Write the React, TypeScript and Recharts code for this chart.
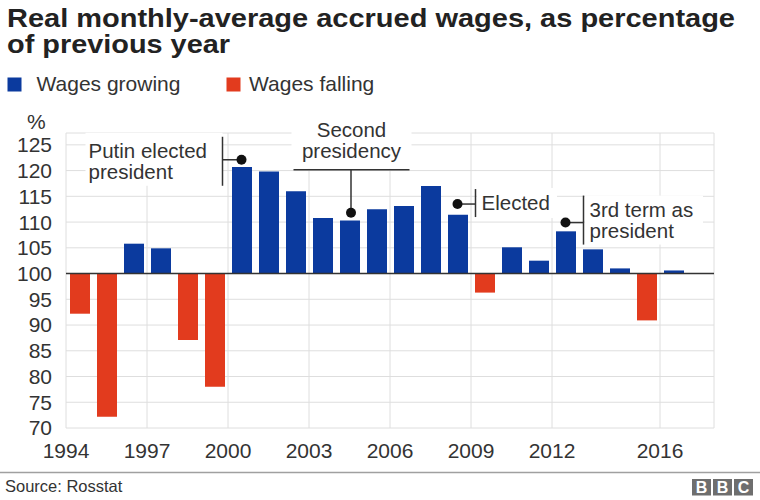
import React from 'react';
import {
  BarChart,
  Bar,
  XAxis,
  YAxis,
  CartesianGrid,
  Cell,
  ReferenceLine,
  ReferenceDot,
} from 'recharts';

// ---- data ----
const years = [
  1994, 1995, 1996, 1997, 1998, 1999, 2000, 2001, 2002, 2003, 2004, 2005,
  2006, 2007, 2008, 2009, 2010, 2011, 2012, 2013, 2014, 2015, 2016,
];
const wages = [
  92.2, 72.2, 105.8, 104.9, 87.1, 78.0, 120.7, 119.8, 116.0, 110.8, 110.3,
  112.5, 113.1, 117.0, 111.4, 96.3, 105.1, 102.5, 108.2, 104.7, 101.0, 90.9,
  100.6,
];
const baseline = 100;
const yTicks = [70, 75, 80, 85, 90, 95, 100, 105, 110, 115, 120, 125];
const xTicks = [1994, 1997, 2000, 2003, 2006, 2009, 2012, 2016];
const xDomain = [1994, 2018];
const yDomain = [70, 127.3];

const titleLines = [
  'Real monthly-average accrued wages, as percentage',
  'of previous year',
];
const legendItems = ['Wages growing', 'Wages falling'];
const sourceText = 'Source: Rosstat';

// annotation anchors (year, value)
const noteYears = [2000.5, 2004.5, 2008.5, 2012.5];
const noteValues = [122.1, 111.8, 113.5, 109.9];

const BLUE = '#0b3a9e';
const RED = '#e23b1e';
const INK = '#333';
const FONT = '"Liberation Sans", Arial, Helvetica, sans-serif';

const chartData = years.map((y, i) => ({
  x: y + 0.5,
  value: wages[i],
  range: wages[i] >= baseline ? [baseline, wages[i]] : [wages[i], baseline],
}));

const txt = { fontFamily: FONT, fontSize: 21, fill: INK } as const;
const note = { fontFamily: FONT, fontSize: 20.5, fill: INK } as const;
const lineStyle = { stroke: INK, strokeWidth: 1.5 } as const;

const PutinNote = (p: any) => {
  const { cx, cy } = p;
  return (
    <g>
      <rect x={cx - 156} y={cy - 27} width={137} height={53} fill="#fff" />
      <line x1={cx - 19} y1={cy} x2={cx} y2={cy} {...lineStyle} />
      <line x1={cx - 19} y1={cy - 23} x2={cx - 19} y2={cy + 26} {...lineStyle} />
      <circle cx={cx} cy={cy} r={5} fill="#111" />
      <text x={cx - 153} y={cy - 2} {...note}>Putin elected</text>
      <text x={cx - 153} y={cy + 19} {...note}>president</text>
    </g>
  );
};

const SecondNote = (p: any) => {
  const { cx, cy } = p;
  return (
    <g>
      <rect x={cx - 58} y={cy - 98} width={120} height={54} fill="#fff" />
      <line x1={cx + 1.5} y1={cy} x2={cx + 1.5} y2={cy - 43} {...lineStyle} />
      <line x1={cx - 56} y1={cy - 43} x2={cx + 60} y2={cy - 43} {...lineStyle} />
      <circle cx={cx + 1.5} cy={cy} r={5} fill="#111" />
      <text x={cx + 2} y={cy - 76} textAnchor="middle" {...note}>Second</text>
      <text x={cx + 2} y={cy - 55} textAnchor="middle" {...note}>presidency</text>
    </g>
  );
};

const ElectedNote = (p: any) => {
  const { cx, cy } = p;
  return (
    <g>
      <rect x={cx + 19.5} y={cy - 16} width={80} height={30} fill="#fff" />
      <line x1={cx} y1={cy} x2={cx + 18} y2={cy} {...lineStyle} />
      <line x1={cx + 18} y1={cy - 15} x2={cx + 18} y2={cy + 13} {...lineStyle} />
      <circle cx={cx} cy={cy} r={5} fill="#111" />
      <text x={cx + 24} y={cy + 6} {...note}>Elected</text>
    </g>
  );
};

const ThirdNote = (p: any) => {
  const { cx, cy } = p;
  return (
    <g>
      <rect x={cx + 19.5} y={cy - 27} width={118} height={49} fill="#fff" />
      <line x1={cx} y1={cy} x2={cx + 18} y2={cy} {...lineStyle} />
      <line x1={cx + 18} y1={cy - 27} x2={cx + 18} y2={cy + 22} {...lineStyle} />
      <circle cx={cx} cy={cy} r={5} fill="#111" />
      <text x={cx + 24} y={cy - 6} {...note}>3rd term as</text>
      <text x={cx + 24} y={cy + 15} {...note}>president</text>
    </g>
  );
};

const noteShapes = [PutinNote, SecondNote, ElectedNote, ThirdNote];

export default function App() {
  return (
    <div
      style={{
        position: 'absolute',
        left: 0,
        top: 0,
        width: 760,
        height: 500,
        background: '#fff',
        overflow: 'hidden',
      }}
    >
      <svg
        width={760}
        height={500}
        style={{ position: 'absolute', left: 0, top: 0 }}
      >
        <text
          x={7}
          y={27}
          fontFamily={FONT}
          fontWeight="bold"
          fontSize={25}
          fill="#222"
          textLength={728}
          lengthAdjust="spacingAndGlyphs"
        >
          {titleLines[0]}
        </text>
        <text
          x={7}
          y={53}
          fontFamily={FONT}
          fontWeight="bold"
          fontSize={25}
          fill="#222"
          textLength={223}
          lengthAdjust="spacingAndGlyphs"
        >
          {titleLines[1]}
        </text>
        <rect x={7.5} y={77.5} width={14} height={14} fill={BLUE} />
        <text x={36.5} y={91} {...txt}>{legendItems[0]}</text>
        <rect x={226.5} y={77.5} width={14} height={14} fill={RED} />
        <text x={249} y={91} {...txt}>{legendItems[1]}</text>
        <text x={27} y={129} {...txt}>%</text>
        <line x1={0} y1={472.5} x2={760} y2={472.5} stroke="#a0a0a0" strokeWidth={1.5} />
        <text x={5} y={491.5} fontFamily={FONT} fontSize={16.5} fill={INK}>
          {sourceText}
        </text>
        {['B', 'B', 'C'].map((l, i) => (
          <g key={i}>
            <rect x={692 + i * 21} y={479} width={19} height={16.5} fill="#6e6e6e" />
            <text
              x={692 + i * 21 + 9.5}
              y={493}
              textAnchor="middle"
              fontFamily={FONT}
              fontWeight="bold"
              fontSize={16}
              fill="#fff"
            >
              {l}
            </text>
          </g>
        ))}
      </svg>
      <div style={{ position: 'absolute', left: 0, top: 0 }}>
        <BarChart
          width={760}
          height={500}
          data={chartData}
          margin={{ top: 133, right: 46, bottom: 42, left: 0 }}
          style={{ fontFamily: FONT }}
        >
          <CartesianGrid stroke="#dedede" strokeWidth={1} />
          <XAxis
            type="number"
            dataKey="x"
            domain={xDomain}
            ticks={xTicks}
            allowDataOverflow
            axisLine={false}
            tickLine={false}
            tickSize={0}
            tickMargin={15}
            height={30}
            interval={0}
            tick={{ fill: INK, fontSize: 21, fontFamily: FONT }}
          />
          <YAxis
            type="number"
            domain={yDomain}
            ticks={yTicks}
            allowDataOverflow
            axisLine={false}
            tickLine={false}
            tickSize={0}
            tickMargin={14}
            width={66}
            interval={0}
            tick={{ fill: INK, fontSize: 21, fontFamily: FONT }}
          />
          <Bar dataKey="range" barSize={20} isAnimationActive={false}>
            {chartData.map((d, i) => (
              <Cell key={i} fill={d.value >= baseline ? BLUE : RED} />
            ))}
          </Bar>
          <ReferenceLine y={baseline} stroke="#333" strokeWidth={1.5} />
          {noteYears.map((yr, i) => (
            <ReferenceDot
              key={i}
              x={yr}
              y={noteValues[i]}
              r={5}
              shape={noteShapes[i]}
            />
          ))}
        </BarChart>
      </div>
    </div>
  );
}
